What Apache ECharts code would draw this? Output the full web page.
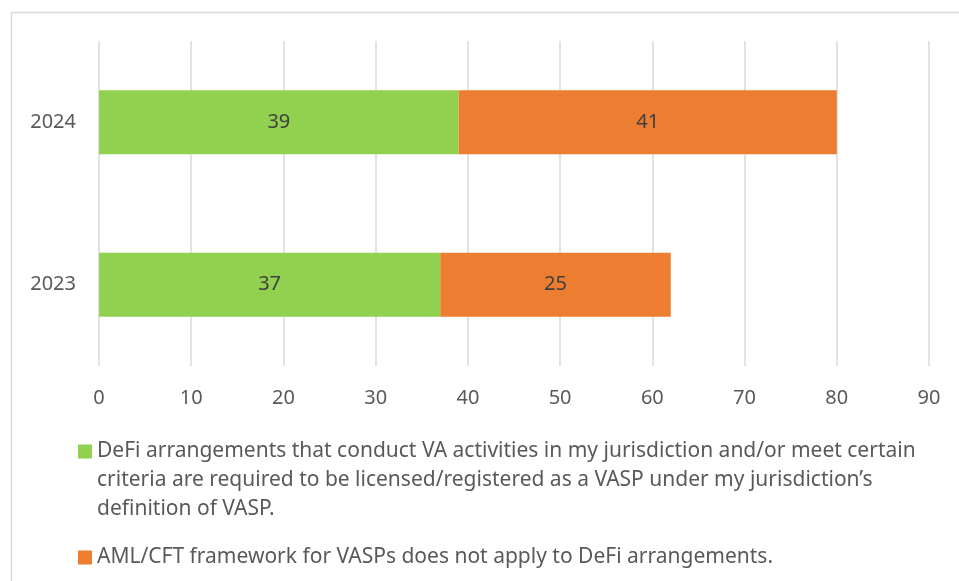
<!DOCTYPE html>
<html>
<head>
<meta charset="utf-8">
<style>
  html, body { margin: 0; padding: 0; background: #fff; }
  #chart_box { width: 959px; height: 581px; }
</style>
<script src="https://cdn.jsdelivr.net/npm/echarts@6/dist/echarts.min.js"></script>
</head>
<body>
<div id="chart_box"></div>
<script>
// data
var years = ["2023", "2024"];
var licensed = [37, 39];
var notApply = [25, 41];
var xTicks = [0, 10, 20, 30, 40, 50, 60, 70, 80, 90];
var seriesNames = [
  "DeFi arrangements that conduct VA activities in my jurisdiction and/or meet certain criteria are required to be licensed/registered as a VASP under my jurisdiction’s definition of VASP.",
  "AML/CFT framework for VASPs does not apply to DeFi arrangements."
];
// how the long legend text wraps in the picture
var legendLines = {};
legendLines[seriesNames[0]] = [
  "DeFi arrangements that conduct VA activities in my jurisdiction and/or meet certain",
  "criteria are required to be licensed/registered as a VASP under my jurisdiction’s",
  "definition of VASP."
];
legendLines[seriesNames[1]] = [
  "AML/CFT framework for VASPs does not apply to DeFi arrangements."
];

var GREEN = "#92D050";
var ORANGE = "#ED7D31";
var FONT = "Noto Sans";

var myChart = echarts.init(document.getElementById("chart_box"));

var option = {
  animation: false,
  textStyle: { fontFamily: FONT },
  graphic: [
    {
      // outer frame of the chart area
      type: "rect",
      shape: { x: 11.5, y: 12.5, width: 1000, height: 1000 },
      style: { fill: null, stroke: "#D9D9D9", lineWidth: 1.5 },
      silent: true
    }
  ],
  grid: { left: 99, right: 30, top: 41, bottom: 215 },
  xAxis: {
    type: "value",
    min: xTicks[0],
    max: xTicks[xTicks.length - 1],
    interval: 10,
    axisLine: { show: false },
    axisTick: { show: false },
    splitLine: { lineStyle: { color: "#D9D9D9", width: 1.5 } },
    axisLabel: { color: "#595959", fontSize: 20, margin: 22, fontFamily: FONT }
  },
  yAxis: {
    type: "category",
    data: years,
    axisLine: { show: false },
    axisTick: { show: false },
    axisLabel: { color: "#595959", fontSize: 20, margin: 23, fontFamily: FONT }
  },
  legend: {
    orient: "vertical",
    left: 68,
    top: 436,
    itemGap: 27,
    icon: "none",
    itemWidth: 0,
    itemHeight: 14,
    selectedMode: false,
    data: seriesNames,
    formatter: function (name) {
      var lines = legendLines[name];
      var sq = name === seriesNames[0] ? "sqG" : "sqO";
      var out = "{" + sq + "|}{t|" + lines[0] + "}";
      for (var i = 1; i < lines.length; i++) {
        out += "\n{ind|}{t|" + lines[i] + "}";
      }
      return out;
    },
    textStyle: {
      fontFamily: FONT,
      rich: {
        sqG: { width: 14, height: 14, backgroundColor: GREEN },
        sqO: { width: 14, height: 14, backgroundColor: ORANGE },
        ind: { width: 14, height: 14 },
        t: { color: "#595959", fontSize: 21, lineHeight: 29, padding: [0, 0, 0, 5], fontFamily: FONT }
      }
    }
  },
  series: [
    {
      name: seriesNames[0],
      type: "bar",
      stack: "total",
      data: licensed,
      barWidth: 64,
      itemStyle: { color: GREEN },
      label: { show: true, position: "inside", color: "#404040", fontSize: 20, fontFamily: FONT }
    },
    {
      name: seriesNames[1],
      type: "bar",
      stack: "total",
      data: notApply,
      barWidth: 64,
      itemStyle: { color: ORANGE },
      label: { show: true, position: "inside", color: "#404040", fontSize: 20, fontFamily: FONT }
    }
  ]
};

myChart.setOption(option);
</script>
</body>
</html>
